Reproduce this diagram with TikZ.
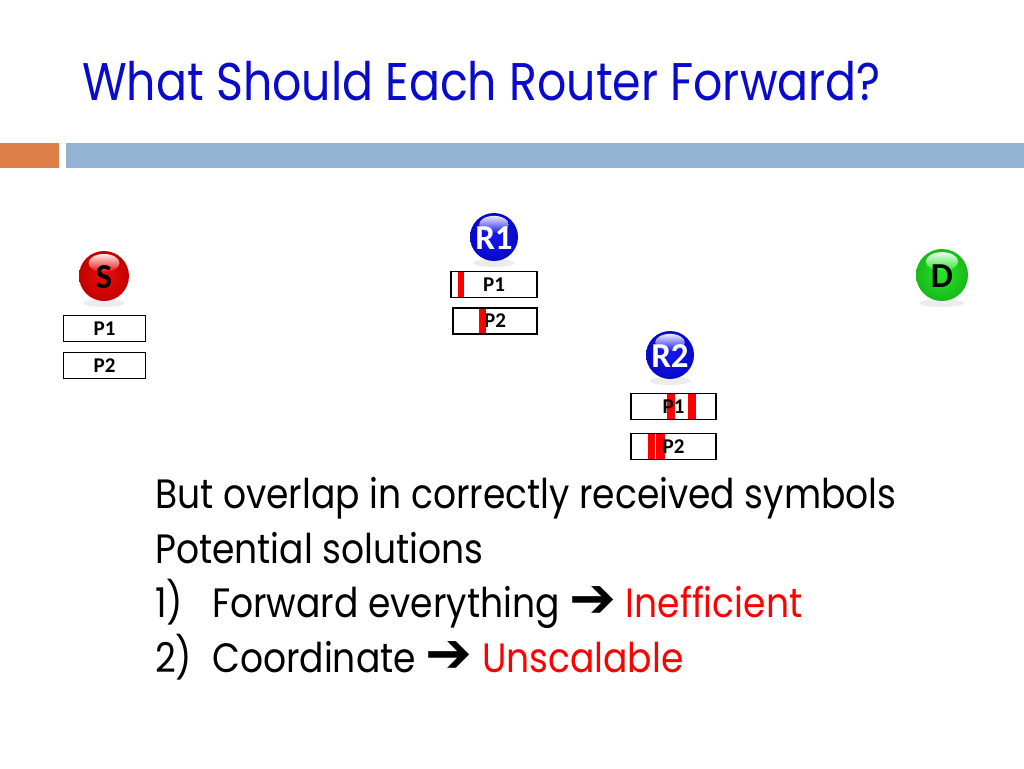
\documentclass[tikz,border=0pt]{standalone}
\usepackage{fontspec}
\usetikzlibrary{calc}
\setmainfont{Carlito}
\newfontfamily\bodyfont[FakeStretch=0.88]{Poppins}
\newfontfamily\titlefont[FakeStretch=0.865]{Poppins}
\newfontfamily\symfont{DejaVu Sans}
\definecolor{titleblue}{RGB}{10,10,204}
\definecolor{barorange}{RGB}{221,128,71}
\definecolor{barblue}{RGB}{146,180,210}
\definecolor{pktred}{RGB}{255,0,0}
\definecolor{ballred}{RGB}{235,0,0}
\definecolor{ballblue}{RGB}{10,10,240}
\definecolor{ballgreen}{RGB}{30,225,30}
\newcommand{\glossball}[3]{% center, radius, color
  \fill[gray!15] ($#1+(0,#2+2)$) ellipse ({0.85*#2} and 4);
  \shade[inner color=#3!95!white, outer color=#3!82!black] #1 circle (#2);
  \shade[top color=white!92!#3, bottom color=#3!95!white] ($#1+(0,-0.52*#2)$) ellipse ({0.62*#2} and {0.36*#2});
}
\begin{document}
\begin{tikzpicture}[x=1pt,y=-1pt,
  pkt/.style={draw=black,line width=1.8pt,fill=white,minimum width=82pt,minimum height=26pt,inner sep=0pt,font=\fontsize{21}{21}\selectfont\bfseries},
  pktlabel/.style={inner sep=0pt,font=\fontsize{21}{21}\selectfont\bfseries},
  ball/.style={circle,minimum size=50pt,inner sep=0pt,font=\fontsize{35}{35}\selectfont\bfseries},
  redbar/.style={fill=pktred,draw=none},
  body/.style={anchor=base west,inner sep=0pt,font=\fontsize{41}{41}\bodyfont}]
\useasboundingbox (0,0) rectangle (1024,768);
\fill[white] (0,0) rectangle (1024,768);
% title
\node[anchor=base west,inner sep=0pt,text=titleblue,font=\fontsize{53}{53}\titlefont] (title) at (82,100) {What Should Each Router Forward?};
% bars
\fill[barorange] (0,143) rectangle (59,168);
\fill[barblue] (66,143) rectangle (1024,168);
% S
\glossball{(104,276)}{25}{ballred}
\node[ball,text=black] (S) at (104,277) {S};
\node[pkt] (sp1) at (104.5,328.5) {P1};
\node[pkt] (sp2) at (104.5,365.5) {P2};
% D
\glossball{(942,275)}{26}{ballgreen}
\node[ball,text=black] (D) at (942,276) {D};
% R1
\glossball{(494,237)}{24}{ballblue}
\node[ball,minimum size=48pt,text=white] (R1) at (494,238) {R1};
\node[pkt,minimum width=86pt] (r1p1) at (494,284.5) {};
\fill[redbar] (458,272) rectangle (464,297);
\node[pktlabel] (r1p1t) at (r1p1) {P1};
\node[pkt,minimum width=84pt] (r1p2) at (495,321) {P2};
\fill[redbar] (479,309) rectangle (486,333);
% R2
\glossball{(670,355)}{24}{ballblue}
\node[ball,minimum size=48pt,text=white] (R2) at (670,356) {R2};
\node[pkt,minimum width=85pt] (r2p1) at (673.5,406.5) {};
\fill[redbar] (667,394) rectangle (675,419);
\fill[redbar] (688,394) rectangle (696,419);
\node[pktlabel] (r2p1t) at (r2p1) {P1};
\node[pkt,minimum width=85pt] (r2p2) at (673.5,446.5) {};
\fill[redbar] (648,434) rectangle (665,459);
\draw[white,line width=0.6pt] (655,434) -- (655,459);
\node[pktlabel] (r2p2t) at (r2p2) {P2};
% body text
\node[body] (l1) at (155,508) {But overlap in correctly received symbols};
\node[body] (l2) at (155,563) {Potential solutions};
\node[body] (l3) at (155,617) {\makebox[57pt][l]{1)}Forward everything {\fontsize{56}{56}\symfont\bfseries ➔} \textcolor{pktred}{Inefficient}};
\node[body] (l4) at (155,672) {\makebox[57pt][l]{2)}Coordinate {\fontsize{56}{56}\symfont\bfseries ➔} \textcolor{pktred}{Unscalable}};
\end{tikzpicture}
\end{document}
